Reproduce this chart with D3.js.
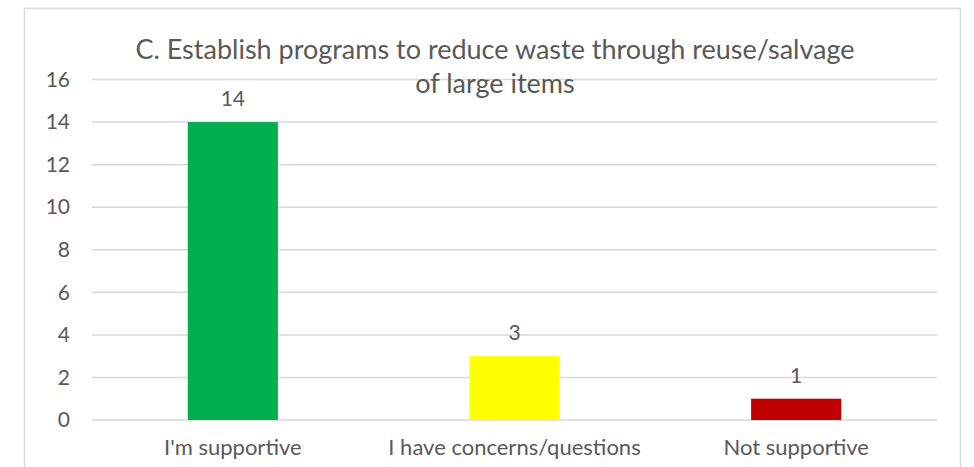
<!DOCTYPE html>
<html>
<head>
<meta charset="utf-8">
<script src="https://cdn.jsdelivr.net/npm/d3@7"></script>
<style>
  body { margin: 0; background: #fff; }
  svg text { font-family: Lato, "Open Sans", sans-serif; fill: #595959; }
</style>
</head>
<body>
<div id="chart"></div>
<script>
// data
const categories = ["I'm supportive", "I have concerns/questions", "Not supportive"];
const counts = [14, 3, 1];
const barColors = ["#00B050", "#FFFF00", "#C00000"];
const yTicks = [0, 2, 4, 6, 8, 10, 12, 14, 16];
const titleLines = ["C. Establish programs to reduce waste through reuse/salvage", "of large items"];

const svgWidth = 974;
const svgHeight = 467;
const margin = { top: 79.5, right: 37, bottom: 47, left: 92 };
const width = svgWidth - margin.left - margin.right;
const height = 420 - margin.top;

const svg = d3.select("#chart")
  .append("svg")
  .attr("width", svgWidth)
  .attr("height", svgHeight);

// chart area border
svg.append("rect")
  .attr("x", 24.5)
  .attr("y", 8.5)
  .attr("width", 936)
  .attr("height", 480)
  .attr("fill", "none")
  .attr("stroke", "#D9D9D9")
  .attr("stroke-width", 1.5);

const chartGroup = svg.append("g")
  .attr("transform", `translate(${margin.left}, ${margin.top})`);

// scales
const xScale = d3.scaleBand()
  .domain(categories)
  .range([0, width])
  .paddingInner(0.68)
  .paddingOuter(0.34);

const yScale = d3.scaleLinear()
  .domain([0, 16])
  .range([height, 0]);

// gridlines
chartGroup.selectAll(".grid")
  .data(yTicks)
  .enter()
  .append("line")
  .attr("x1", 0)
  .attr("x2", width)
  .attr("y1", d => yScale(d))
  .attr("y2", d => yScale(d))
  .attr("stroke", "#D9D9D9")
  .attr("stroke-width", 1.5);

// y axis labels
const leftAxis = d3.axisLeft(yScale).tickValues(yTicks).tickSize(0).tickPadding(22);
const yAxisG = chartGroup.append("g").call(leftAxis);
yAxisG.select(".domain").remove();
yAxisG.selectAll("text")
  .style("font-size", "21px")
  .style("fill", "#595959")
  .style("font-family", "Lato, sans-serif");

// x axis labels
const bottomAxis = d3.axisBottom(xScale).tickSize(0).tickPadding(19);
const xAxisG = chartGroup.append("g")
  .attr("transform", `translate(0, ${height})`)
  .call(bottomAxis);
xAxisG.select(".domain").remove();
xAxisG.selectAll("text")
  .style("font-size", "22px")
  .style("fill", "#595959")
  .style("font-family", "Lato, sans-serif");

// bars
chartGroup.selectAll("rect.bar")
  .data(counts)
  .enter()
  .append("rect")
  .attr("class", "bar")
  .attr("x", (d, i) => xScale(categories[i]))
  .attr("y", d => yScale(d))
  .attr("width", xScale.bandwidth())
  .attr("height", d => height - yScale(d))
  .attr("fill", (d, i) => barColors[i]);

// value labels
chartGroup.selectAll("text.val")
  .data(counts)
  .enter()
  .append("text")
  .attr("class", "val")
  .attr("x", (d, i) => xScale(categories[i]) + xScale.bandwidth() / 2)
  .attr("y", d => yScale(d) - 16)
  .attr("text-anchor", "middle")
  .style("font-size", "21px")
  .text(d => d);

// title
svg.selectAll("text.title")
  .data(titleLines)
  .enter()
  .append("text")
  .attr("class", "title")
  .attr("x", 495)
  .attr("y", (d, i) => 59 + i * 34)
  .attr("text-anchor", "middle")
  .style("font-size", "27px")
  .text(d => d);
</script>
</body>
</html>
